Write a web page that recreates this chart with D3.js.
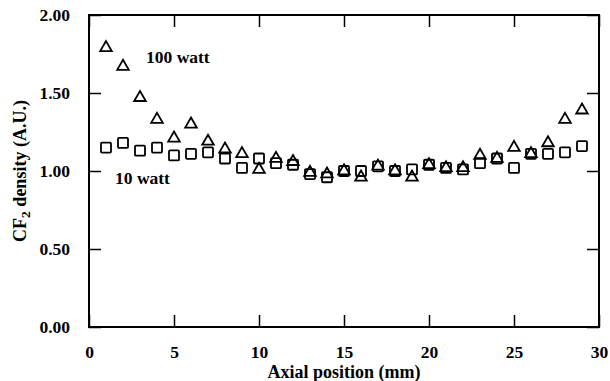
<!DOCTYPE html>
<html>
<head>
<meta charset="utf-8">
<script src="https://cdn.jsdelivr.net/npm/d3@7"></script>
<style>
  html, body { margin: 0; padding: 0; background: #fff; }
  svg text { font-family: "Liberation Serif", "Times New Roman", serif; font-weight: bold; fill: #000; }
</style>
</head>
<body>
<svg id="chart" width="610" height="381"></svg>
<script>
// Axial positions (mm) of each measurement
const positions = [1,2,3,4,5,6,7,8,9,10,11,12,13,14,15,16,17,18,19,20,21,22,23,24,25,26,27,28,29];
// CF2 density, 100 W discharge (triangles)
const density100W = [1.79,1.67,1.47,1.33,1.21,1.30,1.19,1.14,1.11,1.01,1.08,1.06,0.99,0.98,1.00,0.96,1.03,1.00,0.96,1.04,1.02,1.02,1.10,1.08,1.15,1.11,1.18,1.33,1.39];
// CF2 density, 10 W discharge (squares)
const density10W = [1.15,1.18,1.13,1.15,1.10,1.11,1.12,1.08,1.02,1.08,1.05,1.04,0.98,0.96,1.00,1.00,1.03,1.00,1.01,1.04,1.02,1.01,1.05,1.08,1.02,1.11,1.11,1.12,1.16];
const xTicks = [0,5,10,15,20,25,30];
const yTicks = [0,0.5,1,1.5,2];

const svg = d3.select("#chart");
const L = 89, R = 599, T = 15, B = 327;

const x = d3.scaleLinear().domain([0, 30]).range([L, R]);
const y = d3.scaleLinear().domain([0, 2]).range([B, T]);

const tickLen = 12;
const labelSize = 17.5;

function styleAxis(g) {
  g.select(".domain").remove();
  g.selectAll(".tick line").attr("stroke", "#000").attr("stroke-width", 1.5);
}

// bottom axis with labels, ticks pointing inward
svg.append("g")
  .attr("transform", `translate(0,${B})`)
  .call(d3.axisBottom(x).tickValues(xTicks).tickSize(-tickLen).tickPadding(19).tickFormat(d3.format("d")))
  .call(styleAxis)
  .call(g => g.selectAll("text").attr("font-size", labelSize).attr("font-family", "Liberation Serif").attr("font-weight", "bold"));

// left axis with labels
svg.append("g")
  .attr("transform", `translate(${L},0)`)
  .call(d3.axisLeft(y).tickValues(yTicks).tickSize(-tickLen).tickPadding(19).tickFormat(d3.format(".2f")))
  .call(styleAxis)
  .call(g => g.selectAll("text").attr("font-size", labelSize).attr("font-family", "Liberation Serif").attr("font-weight", "bold"));

// mirrored top / right ticks
svg.append("g")
  .attr("transform", `translate(0,${T})`)
  .call(d3.axisTop(x).tickValues(xTicks).tickSize(-tickLen).tickFormat(""))
  .call(styleAxis);
svg.append("g")
  .attr("transform", `translate(${R},0)`)
  .call(d3.axisRight(y).tickValues(yTicks).tickSize(-tickLen).tickFormat(""))
  .call(styleAxis);

// frame
svg.append("rect")
  .attr("x", L).attr("y", T).attr("width", R - L).attr("height", B - T)
  .attr("fill", "none").attr("stroke", "#000").attr("stroke-width", 2);

// 10 W squares
const sq = 10;
svg.append("g").selectAll("rect")
  .data(positions.map((p, i) => [p, density10W[i]]))
  .join("rect")
  .attr("x", d => x(d[0]) - sq / 2)
  .attr("y", d => y(d[1]) - sq / 2)
  .attr("width", sq).attr("height", sq)
  .attr("rx", 1)
  .attr("fill", "none").attr("stroke", "#000").attr("stroke-width", 1.8);

// 100 W triangles
const tri = d3.symbol().type(d3.symbolTriangle).size(58);
svg.append("g").selectAll("path")
  .data(positions.map((p, i) => [p, density100W[i]]))
  .join("path")
  .attr("d", tri)
  .attr("transform", d => `translate(${x(d[0])},${y(d[1])})`)
  .attr("fill", "none").attr("stroke", "#000").attr("stroke-width", 1.8);

// series labels
svg.append("text").attr("x", 146).attr("y", 63).attr("font-size", 17.5).text("100 watt");
svg.append("text").attr("x", 115).attr("y", 184).attr("font-size", 17.5).text("10 watt");

// axis titles
svg.append("text")
  .attr("x", (L + R) / 2).attr("y", 378)
  .attr("text-anchor", "middle").attr("font-size", 18)
  .text("Axial position (mm)");

const yt = svg.append("text")
  .attr("transform", `translate(26,${(T + B) / 2}) rotate(-90)`)
  .attr("text-anchor", "middle").attr("font-size", 18);
yt.append("tspan").text("CF");
yt.append("tspan").attr("font-size", 13.5).attr("dy", 4).text("2");
yt.append("tspan").attr("dy", -4).text(" density (A.U.)");
</script>
</body>
</html>
